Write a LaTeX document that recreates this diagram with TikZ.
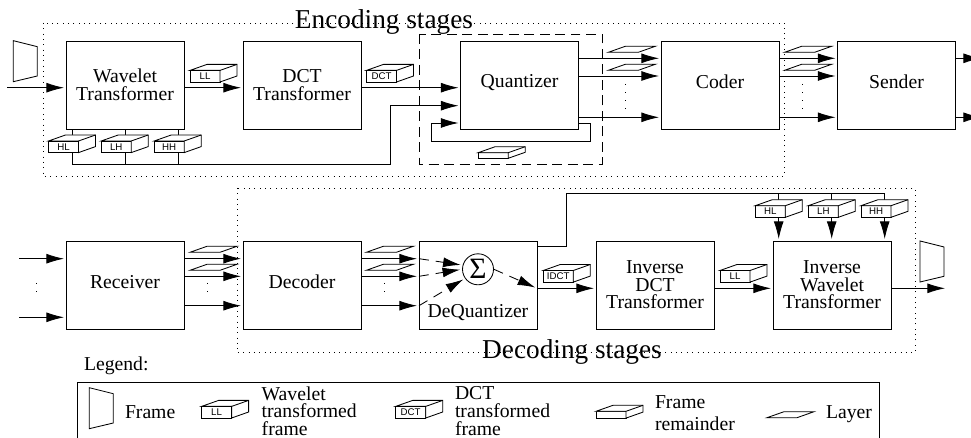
\documentclass[tikz,border=0pt]{standalone}
\usepackage{fontspec}
\setmainfont{Liberation Serif}
\newfontfamily\labelfont{Liberation Sans}
\usetikzlibrary{positioning,calc,arrows.meta}

\tikzset{
  txt/.style={font=\fontsize{14}{12.5}\selectfont,inner sep=0pt,outer sep=0pt},
  title/.style={font=\fontsize{19.4}{20}\selectfont,inner sep=0pt,anchor=base},
  stage/.style={draw,txt,align=center,minimum width=2.95cm,minimum height=2.2cm,line width=0.6pt},
  cubeface/.style={draw,fill=white,inner sep=0pt,outer sep=0pt,minimum width=0.75cm,minimum height=0.29cm,font=\labelfont\fontsize{6.9}{7}\selectfont},
  plain/.style={line width=0.6pt},
  flow/.style={plain,-{Latex[length=12.5pt,width=7pt]},shorten >=1.4pt},
  dflow/.style={flow,dash pattern=on 7pt off 5pt},
  vdots/.style={line width=0.6pt,dash pattern=on 0.7pt off 5pt},
  region/.style={line width=0.7pt,dash pattern=on 0.7pt off 3.1pt},
}

\newcommand{\cube}[4][]{
  \node[cubeface,#1] (#2) at (#3) {#4};
  \draw[plain,fill=white] (#2.north west) -- ++(17,-6) -- ++(30,0) -- ($(#2.south east)+(17,-6)$) -- (#2.south east) -- (#2.north east) -- cycle;
  \draw[plain] (#2.north east) -- ++(17,-6);
}
\newcommand{\layer}[1]{
  \draw[plain] (#1) -- ++(30,0) -- ++(17,-6) -- ++(-30,0) -- cycle;
}
\newcommand{\framepic}[1]{
  \draw[plain] (#1) -- ++(24,6) -- ++(0,29.3) -- ++(-24,5.7) -- cycle;
}

\begin{document}
\begin{tikzpicture}[x=0.025cm,y=-0.025cm]
  \useasboundingbox (0,0) rectangle (971,438);
  \clip (0,0) rectangle (971,438);

  % regions
  \draw[region] (43,23) rectangle (784.7,176);
  \draw[region] (237,188) rectangle (915,352.7);
  \draw[plain,dash pattern=on 7pt off 4pt] (419.5,34) rectangle (602,164);
  \node[title] (enctitle) at (384,28.3) {Encoding stages};
  \node[title] (dectitle) at (572,358) {Decoding stages};

  % rows
  \coordinate (rowa) at (0,87.7);
  \coordinate (rowb) at (0,288.3);
  \coordinate (la) at (0,58.3);
  \coordinate (lb) at (0,76);
  \coordinate (lc) at (0,117.3);
  \coordinate (ma) at (0,258.7);
  \coordinate (mb) at (0,276.3);
  \coordinate (mc) at (0,305.7);

  % encoder
  \node[stage] (wavelet) at (125,85) {Wavelet\\Transformer};
  \node[stage] (dct) at (302,85) {DCT\\Transformer};
  \node[stage] (quant) at (519.5,85) {};
  \node[stage] (coder) at (720,85) {};
  \node[stage] (sender) at (896.5,85) {};
  \node[txt] (quantlabel) at (519.5,83) {Quantizer};
  \node[txt] (coderlabel) at (720,82) {Coder};
  \node[txt] (senderlabel) at (896.5,82) {Sender};

  % decoder
  \node[stage] (receiver) at (125,285) {};
  \node[stage] (decoder) at (302,285) {};
  \node[stage] (dequant) at (478,285) {};
  \node[stage] (idct) at (655,285) {Inverse\\DCT\\Transformer};
  \node[stage] (iwavelet) at (832,285) {Inverse\\Wavelet\\Transformer};
  \node[txt] (receiverlabel) at (125,282) {Receiver};
  \node[txt] (decoderlabel) at (302,282) {Decoder};
  \node[txt] (dequantlabel) at (478,313) {DeQuantizer};
  \node[draw,plain,circle,inner sep=0pt,minimum size=0.775cm,font=\fontsize{21}{21}\selectfont] (sum) at (478,269.3) {Σ};

  % encoder connectors
  \coordinate (framein) at (7,87.7);
  \draw[flow] (framein) -- (wavelet.west |- rowa);
  \draw[flow] (wavelet.east |- rowa) -- (dct.west |- rowa);
  \draw[flow] (dct.east |- rowa) -- (quant.west |- rowa);

  \coordinate (hlbus) at (72,164.3);
  \coordinate (lhbus) at (125,164.3);
  \coordinate (hhbus) at (178,164.3);
  \coordinate (busup) at (390,105.7);
  \draw[plain] (wavelet.south -| hlbus) -- (hlbus);
  \draw[plain] (wavelet.south -| lhbus) -- (lhbus);
  \draw[plain] (wavelet.south -| hhbus) -- (hhbus);
  \draw[flow] (hlbus) -| (busup) -- (quant.west |- busup);

  \coordinate (loopa) at (590,123);
  \coordinate (loopb) at (431,141);
  \draw[flow] (quant.east |- loopa) -- (loopa) |- (loopb) |- (quant.west |- loopa);

  \draw[flow] (quant.east |- la) -- (coder.west |- la);
  \draw[flow] (quant.east |- lb) -- (coder.west |- lb);
  \draw[flow] (quant.east |- lc) -- (coder.west |- lc);
  \draw[flow] (coder.east |- la) -- (sender.west |- la);
  \draw[flow] (coder.east |- lb) -- (sender.west |- lb);
  \draw[flow] (coder.east |- lc) -- (sender.west |- lc);
  \coordinate (outa) at (983,58.3);
  \coordinate (outb) at (983,117.3);
  \draw[flow] (sender.east |- la) -- (outa);
  \draw[flow] (sender.east |- lc) -- (outb);

  \cube{ll}{205,76.2}{LL}
  \cube{dctcube}{381.5,76.2}{DCT}
  \cube{hl}{63.5,146.8}{HL}
  \cube{lh}{116.2,146.8}{LH}
  \cube{hh}{169.2,146.8}{HH}
  \cube[minimum height=0.14cm]{rem}{493.2,155.5}{}

  \layer{608.3,52.3}
  \layer{608.3,70.3}
  \layer{784.6,52.3}
  \layer{784.6,70.3}
  \draw[vdots] (625.7,84) -- (625.7,109);
  \draw[vdots] (802,84) -- (802,109);
  \framepic{13.3,40.7}

  % decoder connectors
  \coordinate (ina) at (19,258.7);
  \coordinate (inb) at (19,317.3);
  \draw[flow] (ina) -- (receiver.west |- ina);
  \draw[flow] (inb) -- (receiver.west |- inb);
  \draw[flow] (receiver.east |- ma) -- (decoder.west |- ma);
  \draw[flow] (receiver.east |- mb) -- (decoder.west |- mb);
  \draw[flow] (receiver.east |- mc) -- (decoder.west |- mc);
  \draw[flow] (decoder.east |- ma) -- (dequant.west |- ma);
  \draw[flow] (decoder.east |- mb) -- (dequant.west |- mb);
  \draw[flow] (decoder.east |- mc) -- (dequant.west |- mc);
  \draw[dflow] (dequant.west |- ma) -- (sum.165);
  \draw[dflow] (dequant.west |- mb) -- (sum.180);
  \draw[dflow] (dequant.west |- mc) -- (sum.215);
  \draw[dflow] (sum.0) -- (dequant.east |- rowb);
  \draw[flow] (dequant.east |- rowb) -- (idct.west |- rowb);
  \draw[flow] (idct.east |- rowb) -- (iwavelet.west |- rowb);
  \coordinate (frameout) at (947,288.3);
  \draw[flow] (iwavelet.east |- rowb) -- (frameout);

  \coordinate (upout) at (537,246.7);
  \coordinate (busa) at (566.7,193.7);
  \coordinate (ihlbus) at (778.7,193.7);
  \coordinate (ilhbus) at (831.7,193.7);
  \coordinate (ihhbus) at (884.7,193.7);
  \draw[plain] (upout) -| (busa) -- (ihhbus);
  \draw[flow] (ihlbus) -- (iwavelet.north -| ihlbus);
  \draw[flow] (ilhbus) -- (iwavelet.north -| ilhbus);
  \draw[flow] (ihhbus) -- (iwavelet.north -| ihhbus);

  \cube{ihl}{770.3,211.5}{HL}
  \cube{ilh}{823.3,211.5}{LH}
  \cube{ihh}{876,211.5}{HH}
  \cube{idctcube}{558.3,276.3}{IDCT}
  \cube{ill}{735,276.3}{LL}

  \layer{190,252.3}
  \layer{190,270.3}
  \layer{366.3,252.3}
  \layer{366.3,270.3}
  \draw[vdots] (207.7,283) -- (207.7,294);
  \draw[vdots] (384.3,283) -- (384.3,294);
  \draw[vdots] (36.7,283) -- (36.7,294);
  \framepic{920,241}

  % legend
  \node[txt,anchor=base west] (legendtitle) at (84,370.7) {Legend:};
  \node[draw,plain,minimum width=20.04cm,minimum height=1.5cm,inner sep=0pt] (legendbox) at (478.5,412.3) {};
  \framepic{89.3,387.7}
  \node[txt,anchor=base west] (legframe) at (125,418) {Frame};
  \cube{legll}{216.6,412.2}{LL}
  \node[txt,anchor=west,align=left] (legwave) at (261.7,411) {Wavelet\\transformed\\frame};
  \cube{legdct}{410.7,412.2}{DCT}
  \node[txt,anchor=west,align=left] (legdctt) at (455,411) {DCT\\transformed\\frame};
  \cube[minimum height=0.17cm]{legrem}{611,414.7}{}
  \node[txt,anchor=west,align=left] (legremt) at (655,413) {Frame\\[3.3pt]remainder};
  \layer{767,417.7}
  \node[txt,anchor=base west] (leglayer) at (826,418) {Layer};
\end{tikzpicture}
\end{document}
